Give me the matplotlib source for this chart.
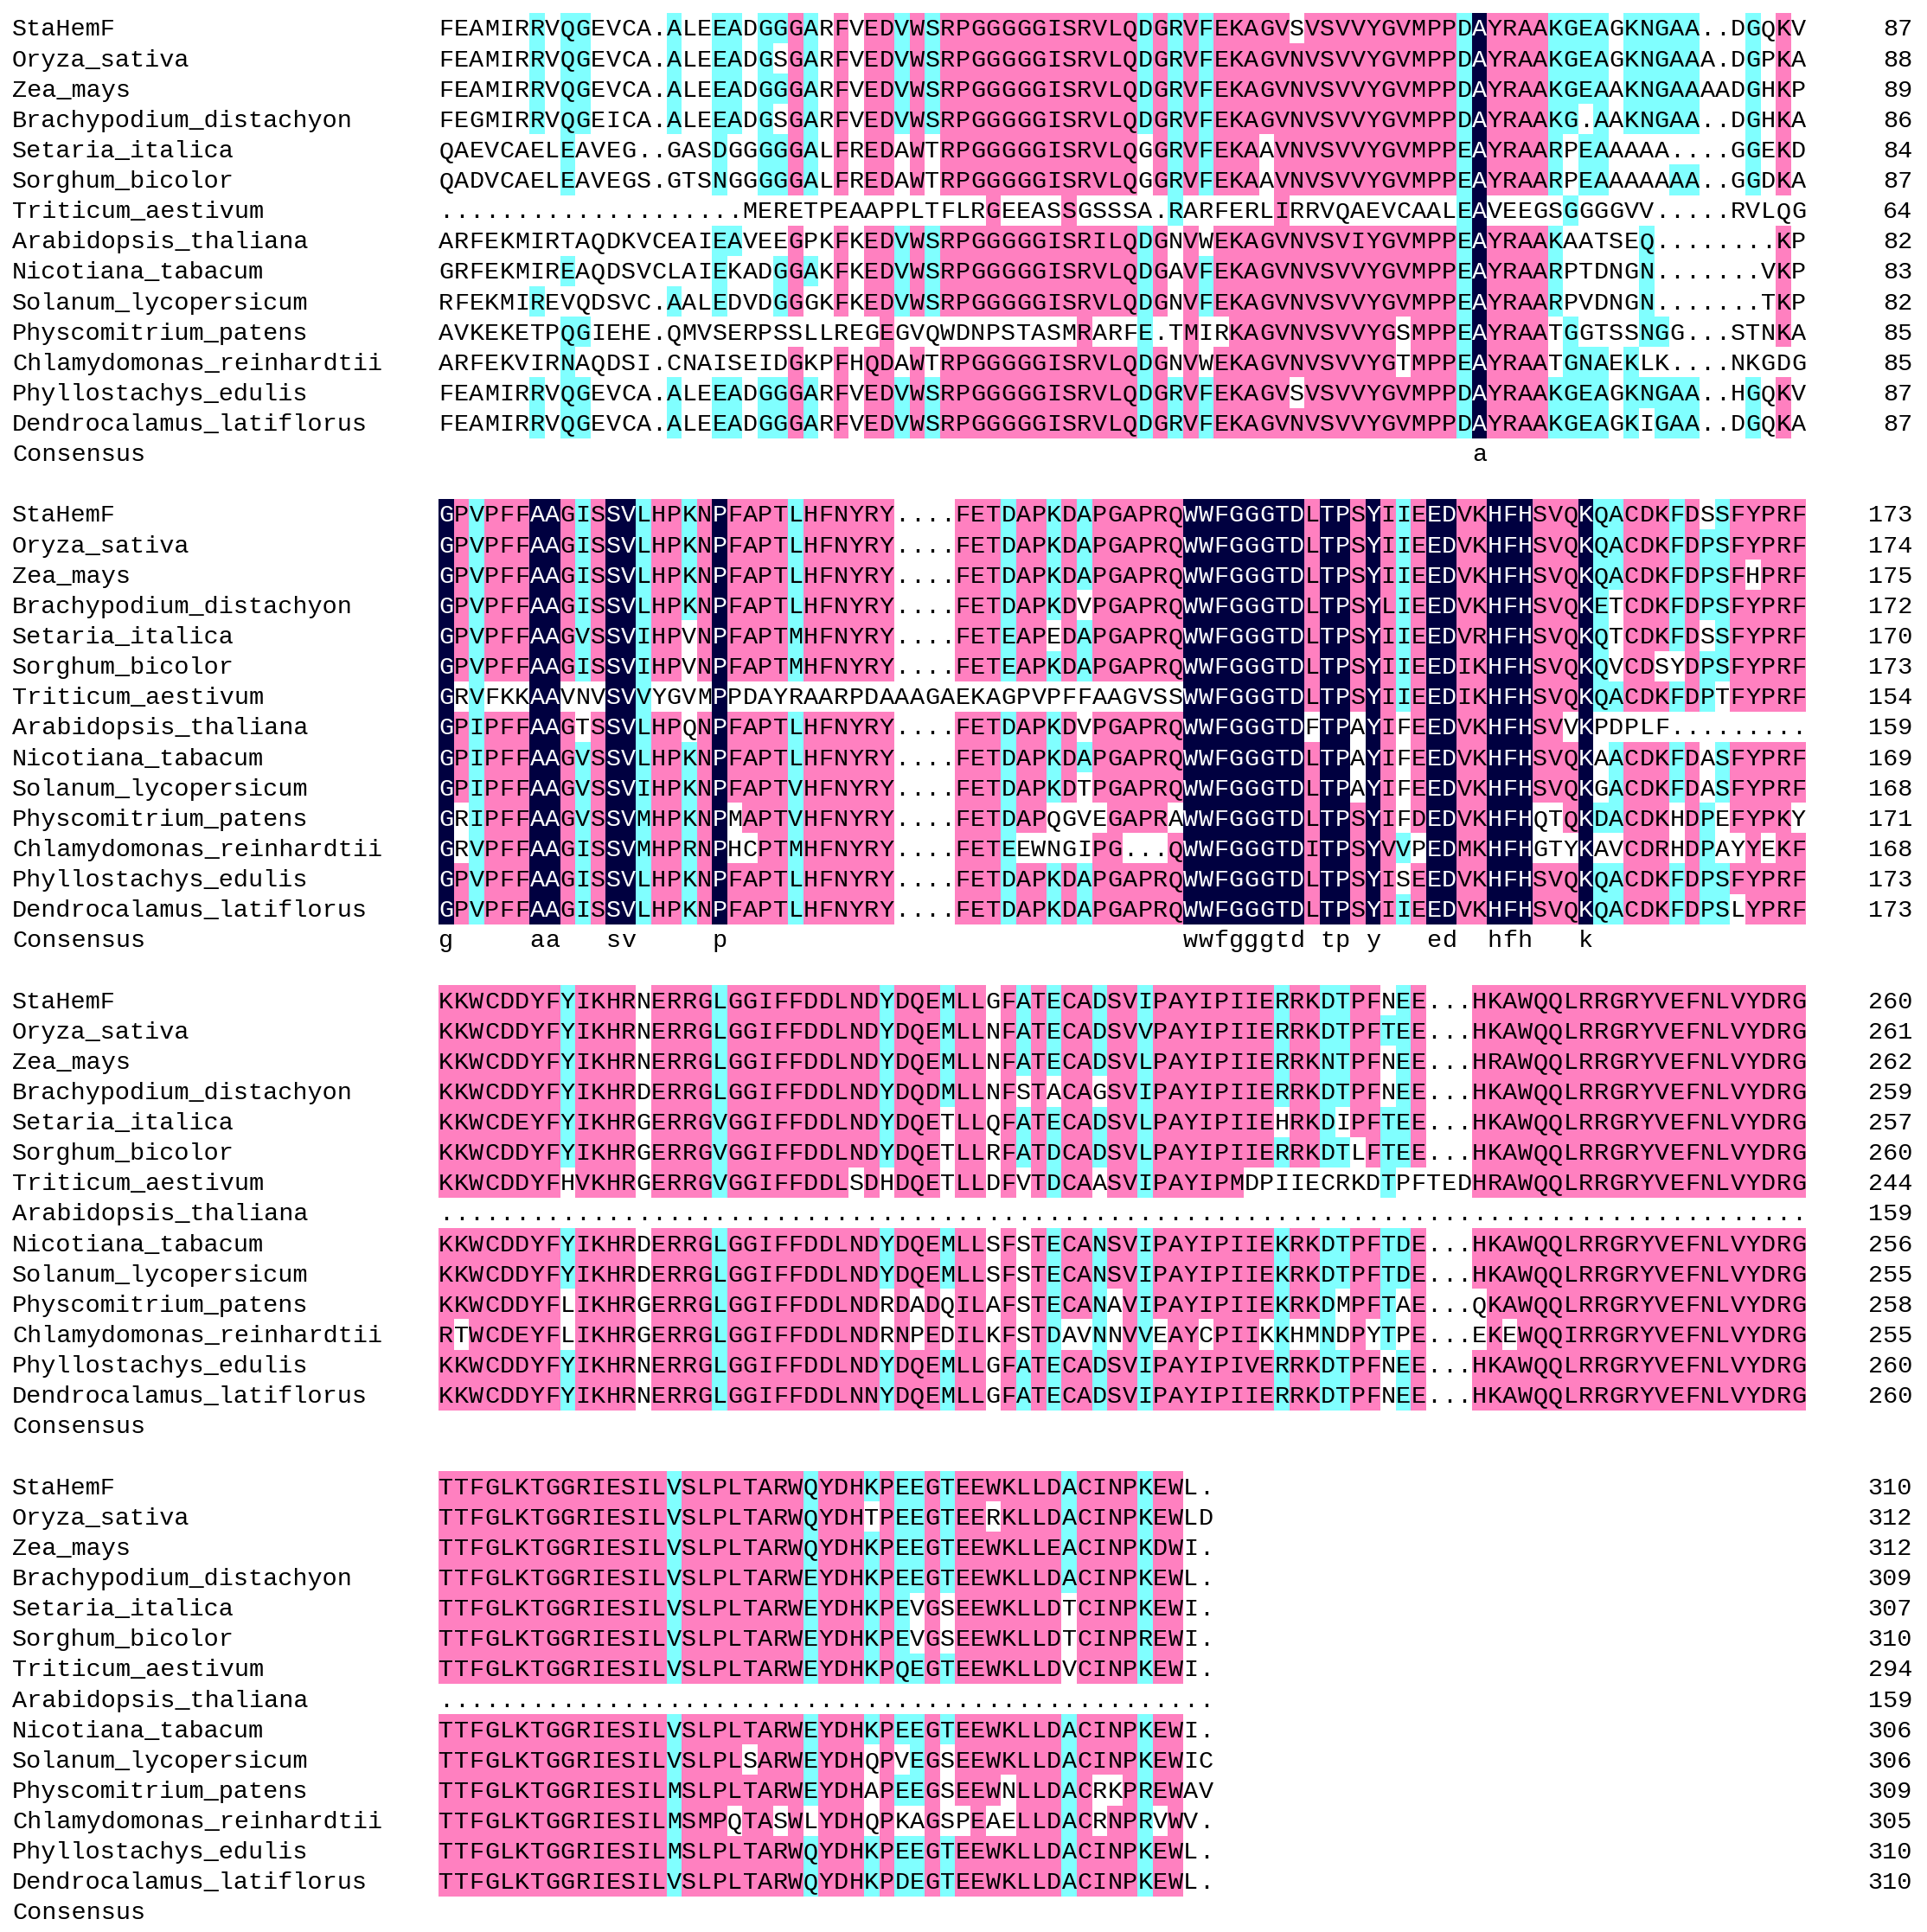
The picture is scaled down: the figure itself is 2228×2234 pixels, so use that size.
import numpy as np
import matplotlib
matplotlib.use("Agg")
from matplotlib import pyplot as plt
from matplotlib.patches import Rectangle
from collections import Counter

names = ["StaHemF", "Oryza_sativa", "Zea_mays", "Brachypodium_distachyon",
         "Setaria_italica", "Sorghum_bicolor", "Triticum_aestivum",
         "Arabidopsis_thaliana", "Nicotiana_tabacum", "Solanum_lycopersicum",
         "Physcomitrium_patens", "Chlamydomonas_reinhardtii",
         "Phyllostachys_edulis", "Dendrocalamus_latiflorus"]

block1 = [
    "FEAMIRRVQGEVCA.ALEEADGGGARFVEDVWSRPGGGGGISRVLQDGRVFEKAGVSVSVVYGVMPPDAYRAAKGEAGKNGAA..DGQKV",
    "FEAMIRRVQGEVCA.ALEEADGSGARFVEDVWSRPGGGGGISRVLQDGRVFEKAGVNVSVVYGVMPPDAYRAAKGEAGKNGAAA.DGPKA",
    "FEAMIRRVQGEVCA.ALEEADGGGARFVEDVWSRPGGGGGISRVLQDGRVFEKAGVNVSVVYGVMPPDAYRAAKGEAAKNGAAAADGHKP",
    "FEGMIRRVQGEICA.ALEEADGSGARFVEDVWSRPGGGGGISRVLQDGRVFEKAGVNVSVVYGVMPPDAYRAAKG.AAKNGAA..DGHKA",
    "QAEVCAELEAVEG..GASDGGGGGALFREDAWTRPGGGGGISRVLQGGRVFEKAAVNVSVVYGVMPPEAYRAARPEAAAAA....GGEKD",
    "QADVCAELEAVEGS.GTSNGGGGGALFREDAWTRPGGGGGISRVLQGGRVFEKAAVNVSVVYGVMPPEAYRAARPEAAAAAAA..GGDKA",
    "....................MERETPEAAPPLTFLRGEEASSGSSSA.RARFERLIRRVQAEVCAALEAVEEGSGGGGVV.....RVLQG",
    "ARFEKMIRTAQDKVCEAIEAVEEGPKFKEDVWSRPGGGGGISRILQDGNVWEKAGVNVSVIYGVMPPEAYRAAKAATSEQ........KP",
    "GRFEKMIREAQDSVCLAIEKADGGAKFKEDVWSRPGGGGGISRVLQDGAVFEKAGVNVSVVYGVMPPEAYRAARPTDNGN.......VKP",
    "RFEKMIREVQDSVC.AALEDVDGGGKFKEDVWSRPGGGGGISRVLQDGNVFEKAGVNVSVVYGVMPPEAYRAARPVDNGN.......TKP",
    "AVKEKETPQGIEHE.QMVSERPSSLLREGEGVQWDNPSTASMRARFE.TMIRKAGVNVSVVYGSMPPEAYRAATGGTSSNGG...STNKA",
    "ARFEKVIRNAQDSI.CNAISEIDGKPFHQDAWTRPGGGGGISRVLQDGNVWEKAGVNVSVVYGTMPPEAYRAATGNAEKLK....NKGDG",
    "FEAMIRRVQGEVCA.ALEEADGGGARFVEDVWSRPGGGGGISRVLQDGRVFEKAGVSVSVVYGVMPPDAYRAAKGEAGKNGAA..HGQKV",
    "FEAMIRRVQGEVCA.ALEEADGGGARFVEDVWSRPGGGGGISRVLQDGRVFEKAGVNVSVVYGVMPPDAYRAAKGEAGKIGAA..DGQKA",
]
block2 = [
    "GPVPFFAAGISSVLHPKNPFAPTLHFNYRY....FETDAPKDAPGAPRQWWFGGGTDLTPSYIIEEDVKHFHSVQKQACDKFDSSFYPRF",
    "GPVPFFAAGISSVLHPKNPFAPTLHFNYRY....FETDAPKDAPGAPRQWWFGGGTDLTPSYIIEEDVKHFHSVQKQACDKFDPSFYPRF",
    "GPVPFFAAGISSVLHPKNPFAPTLHFNYRY....FETDAPKDAPGAPRQWWFGGGTDLTPSYIIEEDVKHFHSVQKQACDKFDPSFHPRF",
    "GPVPFFAAGISSVLHPKNPFAPTLHFNYRY....FETDAPKDVPGAPRQWWFGGGTDLTPSYLIEEDVKHFHSVQKETCDKFDPSFYPRF",
    "GPVPFFAAGVSSVIHPVNPFAPTMHFNYRY....FETEAPEDAPGAPRQWWFGGGTDLTPSYIIEEDVRHFHSVQKQTCDKFDSSFYPRF",
    "GPVPFFAAGISSVIHPVNPFAPTMHFNYRY....FETEAPKDAPGAPRQWWFGGGTDLTPSYIIEEDIKHFHSVQKQVCDSYDPSFYPRF",
    "GRVFKKAAVNVSVVYGVMPPDAYRAARPDAAAGAEKAGPVPFFAAGVSSWWFGGGTDLTPSYIIEEDIKHFHSVQKQACDKFDPTFYPRF",
    "GPIPFFAAGTSSVLHPQNPFAPTLHFNYRY....FETDAPKDVPGAPRQWWFGGGTDFTPAYIFEEDVKHFHSVVKPDPLF.........",
    "GPIPFFAAGVSSVLHPKNPFAPTLHFNYRY....FETDAPKDAPGAPRQWWFGGGTDLTPAYIFEEDVKHFHSVQKAACDKFDASFYPRF",
    "GPIPFFAAGVSSVIHPKNPFAPTVHFNYRY....FETDAPKDTPGAPRQWWFGGGTDLTPAYIFEEDVKHFHSVQKGACDKFDASFYPRF",
    "GRIPFFAAGVSSVMHPKNPMAPTVHFNYRY....FETDAPQGVEGAPRAWWFGGGTDLTPSYIFDEDVKHFHQTQKDACDKHDPEFYPKY",
    "GRVPFFAAGISSVMHPRNPHCPTMHFNYRY....FETEEWNGIPG...QWWFGGGTDITPSYVVPEDMKHFHGTYKAVCDRHDPAYYEKF",
    "GPVPFFAAGISSVLHPKNPFAPTLHFNYRY....FETDAPKDAPGAPRQWWFGGGTDLTPSYISEEDVKHFHSVQKQACDKFDPSFYPRF",
    "GPVPFFAAGISSVLHPKNPFAPTLHFNYRY....FETDAPKDAPGAPRQWWFGGGTDLTPSYIIEEDVKHFHSVQKQACDKFDPSLYPRF",
]
block3 = [
    "KKWCDDYFYIKHRNERRGLGGIFFDDLNDYDQEMLLGFATECADSVIPAYIPIIERRKDTPFNEE...HKAWQQLRRGRYVEFNLVYDRG",
    "KKWCDDYFYIKHRNERRGLGGIFFDDLNDYDQEMLLNFATECADSVVPAYIPIIERRKDTPFTEE...HKAWQQLRRGRYVEFNLVYDRG",
    "KKWCDDYFYIKHRNERRGLGGIFFDDLNDYDQEMLLNFATECADSVLPAYIPIIERRKNTPFNEE...HRAWQQLRRGRYVEFNLVYDRG",
    "KKWCDDYFYIKHRDERRGLGGIFFDDLNDYDQDMLLNFSTACAGSVIPAYIPIIERRKDTPFNEE...HKAWQQLRRGRYVEFNLVYDRG",
    "KKWCDEYFYIKHRGERRGVGGIFFDDLNDYDQETLLQFATECADSVLPAYIPIIEHRKDIPFTEE...HKAWQQLRRGRYVEFNLVYDRG",
    "KKWCDDYFYIKHRGERRGVGGIFFDDLNDYDQETLLRFATDCADSVLPAYIPIIERRKDTLFTEE...HKAWQQLRRGRYVEFNLVYDRG",
    "KKWCDDYFHVKHRGERRGVGGIFFDDLSDHDQETLLDFVTDCAASVIPAYIPMDPIIECRKDTPFTEDHRAWQQLRRGRYVEFNLVYDRG",
    "." * 90,
    "KKWCDDYFYIKHRDERRGLGGIFFDDLNDYDQEMLLSFSTECANSVIPAYIPIIEKRKDTPFTDE...HKAWQQLRRGRYVEFNLVYDRG",
    "KKWCDDYFYIKHRDERRGLGGIFFDDLNDYDQEMLLSFSTECANSVIPAYIPIIEKRKDTPFTDE...HKAWQQLRRGRYVEFNLVYDRG",
    "KKWCDDYFLIKHRGERRGLGGIFFDDLNDRDADQILAFSTECANAVIPAYIPIIEKRKDMPFTAE...QKAWQQLRRGRYVEFNLVYDRG",
    "RTWCDEYFLIKHRGERRGLGGIFFDDLNDRNPEDILKFSTDAVNNVVEAYCPIIKKHMNDPYTPE...EKEWQQIRRGRYVEFNLVYDRG",
    "KKWCDDYFYIKHRNERRGLGGIFFDDLNDYDQEMLLGFATECADSVIPAYIPIVERRKDTPFNEE...HKAWQQLRRGRYVEFNLVYDRG",
    "KKWCDDYFYIKHRNERRGLGGIFFDDLNNYDQEMLLGFATECADSVIPAYIPIIERRKDTPFNEE...HKAWQQLRRGRYVEFNLVYDRG",
]
block4 = [
    "TTFGLKTGGRIESILVSLPLTARWQYDHKPEEGTEEWKLLDACINPKEWL.",
    "TTFGLKTGGRIESILVSLPLTARWQYDHTPEEGTEERKLLDACINPKEWLD",
    "TTFGLKTGGRIESILVSLPLTARWQYDHKPEEGTEEWKLLEACINPKDWI.",
    "TTFGLKTGGRIESILVSLPLTARWEYDHKPEEGTEEWKLLDACINPKEWL.",
    "TTFGLKTGGRIESILVSLPLTARWEYDHKPEVGSEEWKLLDTCINPKEWI.",
    "TTFGLKTGGRIESILVSLPLTARWEYDHKPEVGSEEWKLLDTCINPREWI.",
    "TTFGLKTGGRIESILVSLPLTARWEYDHKPQEGTEEWKLLDVCINPKEWI.",
    "." * 51,
    "TTFGLKTGGRIESILVSLPLTARWEYDHKPEEGTEEWKLLDACINPKEWI.",
    "TTFGLKTGGRIESILVSLPLSARWEYDHQPVEGSEEWKLLDACINPKEWIC",
    "TTFGLKTGGRIESILMSLPLTARWEYDHAPEEGSEEWNLLDACRKPREWAV",
    "TTFGLKTGGRIESILMSMPQTASWLYDHQPKAGSPEAELLDACRNPRVWV.",
    "TTFGLKTGGRIESILMSLPLTARWQYDHKPEEGTEEWKLLDACINPKEWL.",
    "TTFGLKTGGRIESILVSLPLTARWQYDHKPDEGTEEWKLLDACINPKEWL.",
]
blocks = [block1, block2, block3, block4]
ends = [
    [87, 88, 89, 86, 84, 87, 64, 82, 83, 82, 85, 85, 87, 87],
    [173, 174, 175, 172, 170, 173, 154, 159, 169, 168, 171, 168, 173, 173],
    [260, 261, 262, 259, 257, 260, 244, 159, 256, 255, 258, 255, 260, 260],
    [310, 312, 312, 309, 307, 310, 294, 159, 306, 306, 309, 305, 310, 310],
]

groups = ["VILM", "DENQ", "KR"]
def similar(a, b):
    return a == b or any(a in g and b in g for g in groups)

PINK = "#ff80c0"
CYAN = "#80ffff"
NAVY = "#000040"

W, H = 2228, 2234
fig = plt.figure(figsize=(W / 100, H / 100), dpi=100)
ax = fig.add_axes([0, 0, 1, 1])
ax.set_xlim(0, W)
ax.set_ylim(H, 0)
ax.axis("off")

font = dict(family="Liberation Mono", fontsize=20.5)
x0, cw = 507, 17.57
y0, rh = 31.4, 35.13
name_x, num_x = 14, 2211

for b, seqs in enumerate(blocks):
    ncol = len(seqs[0])
    top = b * 16
    cons = ""
    for c in range(ncol):
        col = [s[c] for s in seqs]
        cnt = Counter(r for r in col if r != ".")
        if not cnt:
            cons += " "
            continue
        res, n = cnt.most_common(1)[0]
        if n == len(seqs):
            color, tc = NAVY, "white"
        elif n >= 11:
            color, tc = PINK, "black"
        elif n >= 7:
            color, tc = CYAN, "black"
        else:
            color = None
        cons += res.lower() if n == len(seqs) else " "
        for r, s in enumerate(seqs):
            ch = s[c]
            yc = y0 + (top + r) * rh
            xc = x0 + c * cw
            fg = "black"
            if color and ch != "." and similar(ch, res):
                ax.add_patch(Rectangle((xc, yc - rh / 2 + 1), cw, rh, facecolor=color, edgecolor="none"))
                fg = tc
            ax.text(xc + cw / 2, yc, ch, ha="center", va="center_baseline", color=fg, **font)
    for r, nm in enumerate(names):
        yc = y0 + (top + r) * rh
        ax.text(name_x, yc, nm, ha="left", va="center_baseline", **font)
        ax.text(num_x, yc, str(ends[b][r]), ha="right", va="center_baseline", **font)
    yc = y0 + (top + 14) * rh
    ax.text(name_x, yc, "Consensus", ha="left", va="center_baseline", **font)
    for c, ch in enumerate(cons):
        if ch != " ":
            ax.text(x0 + c * cw + cw / 2, yc, ch, ha="center", va="center_baseline", **font)

fig.savefig("out.png", dpi=100)
